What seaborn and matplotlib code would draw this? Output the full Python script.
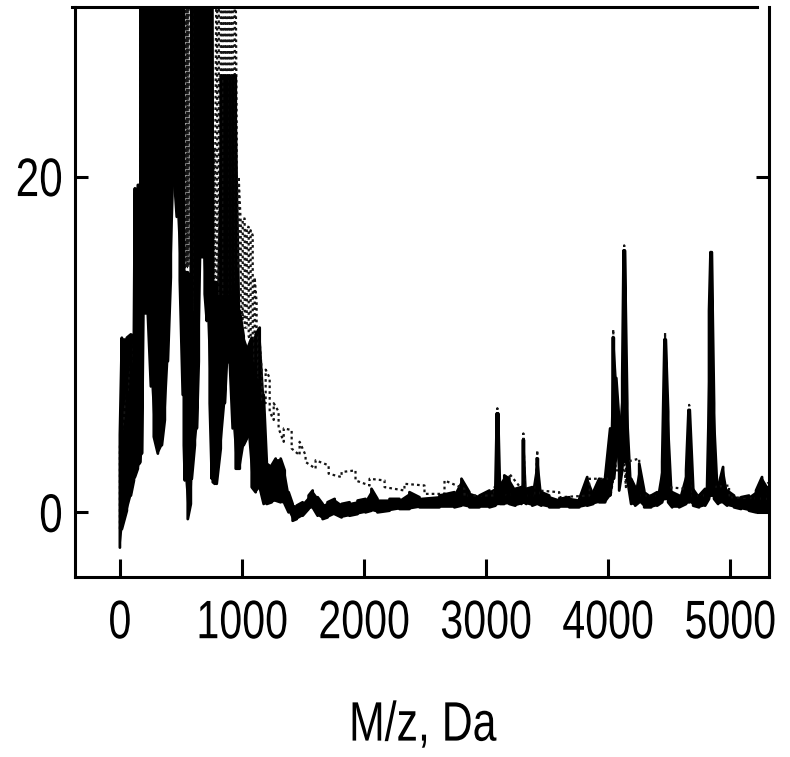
import matplotlib
matplotlib.use("Agg")
import matplotlib.pyplot as plt
from matplotlib.patheffects import AbstractPathEffect
from matplotlib.transforms import Affine2D
import seaborn as sns
import pandas as pd

# ---------------- data ----------------
# solid spectrum: m/z knots with lower / upper envelope of the dense trace
solid_mz = [0, 16, 57, 90, 115, 123, 147, 160, 168, 180, 192, 229, 254, 278, 311, 344,
            368, 393, 417, 442, 466, 491, 515, 524, 532, 556, 581, 589, 614, 630, 646,
            663, 679, 695, 712, 736, 753, 761, 777, 793, 826, 859, 875, 900, 924, 949,
            982, 1014, 1047, 1080, 1112, 1145, 1178, 1203, 1243, 1276, 1317, 1350, 1382,
            1415, 1448, 1497, 1546, 1579, 1620, 1661, 1701, 1759, 1816, 1881, 1947, 2012,
            2061, 2110, 2209, 2290, 2372, 2454, 2618, 2740, 2798, 2863, 2945, 3027, 3076,
            3088, 3098, 3112, 3149, 3190, 3239, 3288, 3300, 3310, 3329, 3378, 3414, 3424,
            3452, 3517, 3599, 3681, 3763, 3828, 3877, 3926, 3975, 4016, 4036, 4046, 4066,
            4090, 4115, 4126, 4136, 4156, 4188, 4221, 4254, 4295, 4352, 4401, 4442, 4461,
            4471, 4491, 4524, 4581, 4638, 4658, 4668, 4696, 4744, 4794, 4826, 4838, 4848,
            4867, 4900, 4941, 4974, 5031, 5088, 5153, 5211, 5260, 5309]
solid_lo = [-2.1, -1.0, 0.1, 1.0, 1.9, 2.1, 2.6, 2.9, 3.0, 3.5, 11.8, 11.8, 7.5, 4.5, 3.5, 4.0,
            5.5, 9.0, 14.0, 20.2, 17.6, 13.8, 7.0, 4.0, 1.9, -0.4, 0.5, 2.0, 4.0, 5.0, 9.0,
            15.2, 15.2, 13.0, 11.4, 6.5, 2.0, 1.8, 1.7, 1.7, 3.8, 6.5, 8.8, 9.0, 5.0, 2.6,
            2.6, 4.0, 4.5, 1.5, 1.2, 1.5, 0.5, 0.5, 0.6, 0.7, 0.6, 0.5, 0.0,
            -0.5, -0.4, -0.2, 0.2, 0.3, -0.2, -0.4, -0.3, -0.1, -0.3, -0.2, -0.1, 0.0,
            0.1, 0.0, 0.1, 0.2, 0.2, 0.3, 0.3, 0.3, 0.4, 0.3, 0.3, 0.3, 0.4,
            0.5, 0.5, 0.5, 0.5, 0.5, 0.4, 0.5, 0.6, 0.6, 0.5, 0.4, 0.5, 0.5,
            0.4, 0.3, 0.3, 0.3, 0.3, 0.4, 0.5, 0.6, 0.6, 1.0, 2.0, 2.0, 3.5,
            1.3, 2.5, 3.0, 3.0, 2.0, 0.5, 0.4, 0.6, 0.3, 0.3, 0.4, 0.6, 0.8,
            0.8, 0.6, 0.3, 0.3, 0.5, 0.6, 0.6, 0.4, 0.3, 0.4, 0.8, 1.0, 1.0,
            0.8, 0.5, 0.6, 0.4, 0.3, 0.2, 0.1, 0.0, 0.0, 0.1]
solid_hi = [4.6, 10.4, 10.4, 10.6, 10.8, 19.3, 19.5, 19.5, 40, 40, 40, 40, 40, 40, 40, 40,
            40, 40, 40, 40, 40, 40, 40, 40, 14.3, 14.3, 14.3, 40, 40, 40, 40,
            40, 40, 40, 40, 40, 40, 13.7, 13.7, 13.7, 26, 26, 26, 26, 26, 26,
            12.0, 10.5, 9.8, 10.4, 10.6, 11.0, 7.0, 3.0, 2.8, 3.2, 3.2, 2.5, 1.2,
            0.5, 0.4, 0.6, 1.0, 1.3, 0.9, 0.5, 0.6, 0.8, 0.5, 0.6, 0.7, 0.8,
            1.4, 0.8, 0.8, 0.8, 1.2, 0.9, 1.0, 1.2, 2.0, 1.2, 1.0, 1.3, 1.5,
            5.9, 5.9, 1.8, 2.2, 2.0, 1.4, 1.5, 4.3, 4.3, 1.4, 1.5, 3.2, 3.2,
            1.2, 1.0, 0.8, 0.9, 0.8, 2.1, 1.2, 2.0, 2.1, 5.0, 10.4, 10.4, 8.0,
            5.5, 8.0, 15.6, 15.6, 6.5, 2.0, 1.5, 2.9, 1.3, 1.0, 1.2, 3.0, 10.3,
            10.3, 6.0, 1.2, 1.0, 2.5, 6.1, 6.1, 1.5, 1.0, 1.4, 12.0, 15.5, 15.5,
            6.5, 1.5, 2.7, 1.3, 1.0, 0.9, 1.0, 1.3, 2.1, 1.5]

# dotted spectrum: m/z knots with lower / upper envelope
dot_mz = [0, 115, 123, 160, 168, 520, 532, 540, 548, 556, 564, 581, 600, 750, 765, 773, 781,
          797, 810, 826, 842, 859, 875, 892, 908, 924, 941, 957, 973, 990, 1006, 1022,
          1039, 1055, 1071, 1088, 1104, 1120, 1137, 1161, 1194, 1227, 1260, 1300, 1342,
          1407, 1472, 1521, 1603, 1710, 1816, 1930, 2045, 2168, 2331, 2495, 2659, 2823,
          3068, 3084, 3092, 3100, 3190, 3290, 3305, 3318, 3405, 3419, 3432, 3599, 3844,
          4020, 4041, 4060, 4120, 4131, 4145, 4254, 4450, 4466, 4480, 4650, 4663, 4676,
          4830, 4843, 4856, 4990, 5309]
dot_lo = [-1.0, 2.0, 2.5, 3.0, 10.0, 14.0, 14.6, 14.6, 14.6, 14.6, 14.6, 14.6, 12.0, 12.0,
          13.7, 13.7, 13.7, 13.5, 13.0, 13.0, 13.0, 13.0, 13.0, 13.0, 13.0, 13.5, 14.0,
          16.0, 14.5, 12.5, 11.5, 11.0, 11.0, 10.5, 10.0, 10.0, 9.0, 8.5, 8.0, 6.7, 6.5,
          6.0, 5.5, 5.0, 4.2, 3.8, 3.4, 3.0, 2.6, 2.3, 2.1, 1.9, 1.6, 1.5, 1.3, 1.1,
          1.1, 1.0, 1.0, 1.1, 1.2, 1.1, 1.0, 1.0, 1.1, 1.0, 1.0, 1.0, 1.0, 0.9, 1.0,
          1.0, 2.0, 2.5, 2.5, 3.0, 1.5, 1.0, 1.0, 1.0, 1.0, 1.0, 1.0, 1.0,
          1.0, 1.0, 1.0, 0.9, 0.8]
dot_hi = [4.0, 10.0, 19.0, 19.0, 40, 40, 40, 40, 40, 40, 40, 40, 40, 40, 21.6, 21.6, 21.6,
          40, 40, 40, 40, 40, 40, 40, 40, 40, 40, 22.6, 20.0, 17.2, 17.5, 17.5,
          17.0, 17.0, 16.8, 16.5, 14.0, 12.5, 11.0, 8.5, 8.5, 8.0, 6.5, 6.0, 5.0,
          4.9, 4.2, 3.4, 3.1, 2.8, 2.4, 2.5, 2.0, 1.9, 1.7, 1.6, 1.9, 1.4,
          1.5, 1.4, 6.2, 1.5, 2.3, 1.4, 4.7, 1.4, 1.3, 3.7, 1.3, 1.2, 2.0,
          2.0, 10.9, 5.0, 5.0, 15.9, 3.0, 3.2, 1.5, 10.7, 1.5, 1.4, 6.4, 1.4,
          1.5, 15.6, 1.5, 1.6, 1.8]

x_ticks = [0, 1000, 2000, 3000, 4000, 5000]
y_ticks = [0, 20]
x_label = "M/z, Da"


def zigzag(mz, lo, hi):
    xs, ys = [], []
    for i, (m, a, b) in enumerate(zip(mz, lo, hi)):
        xs += [m, m]
        ys += [a, b] if i % 2 == 0 else [b, a]
    return pd.DataFrame({"mz": xs, "I": ys})


class Squeeze(AbstractPathEffect):
    """Draw text glyphs horizontally condensed (the reference uses a narrow face)."""

    def __init__(self, sx=0.78, anchor="center"):
        super().__init__()
        self.sx = sx
        self.anchor = anchor

    def draw_path(self, renderer, gc, tpath, affine, rgbFace=None):
        ext = tpath.get_extents()
        if self.anchor == "right":
            ax0 = ext.x1
        elif self.anchor == "left":
            ax0 = ext.x0
        else:
            ax0 = 0.5 * (ext.x0 + ext.x1)
        t = Affine2D().translate(-ax0, 0).scale(self.sx, 1).translate(ax0, 0) + affine
        renderer.draw_path(gc, tpath, t, rgbFace)


sns.set_theme(style="white")
plt.rcParams["font.family"] = ["Liberation Sans", "DejaVu Sans"]

fig = plt.figure(figsize=(7.9, 7.57), dpi=100)
ax = fig.add_axes([0.0949, 0.2378, 0.8785, 0.753])

# dotted trace (underneath)
dz = zigzag(dot_mz, dot_lo, dot_hi)
sns.lineplot(data=dz, x="mz", y="I", sort=False, estimator=None, ax=ax,
             color="#151515", linewidth=1.6, linestyle=(0, (1.2, 1.4)))

# solid trace
ax.fill_between(solid_mz, solid_lo, solid_hi, color="black", linewidth=0)
sz = zigzag(solid_mz, solid_lo, solid_hi)
sns.lineplot(data=sz, x="mz", y="I", sort=False, estimator=None, ax=ax,
             color="black", linewidth=2.0)

ax.set_xlim(-368, 5317)
ax.set_ylim(-3.85, 30.1)
ax.set_xticks(x_ticks)
ax.set_yticks(y_ticks)
xt = ax.set_xticklabels([str(v) for v in x_ticks])
yt = ax.set_yticklabels([str(v) for v in y_ticks])
ax.set_xlabel(x_label, fontsize=40, labelpad=37, color="black")
ax.set_ylabel("")
ax.xaxis.label.set_path_effects([Squeeze(0.77, "center")])
for lbl in xt:
    lbl.set_path_effects([Squeeze(0.76, "center")])
for lbl in yt:
    lbl.set_path_effects([Squeeze(0.78, "right")])

for side in ["left", "right", "bottom", "top"]:
    ax.spines[side].set_visible(True)
    ax.spines[side].set_color("black")
    ax.spines[side].set_linewidth(2.2)
ax.spines["top"].set_bounds(-393, 5220)

ax.tick_params(axis="x", direction="in", length=13, width=2.2, pad=16,
               labelsize=39, bottom=True, top=False, colors="black")
ax.tick_params(axis="y", direction="in", length=9.5, width=2.2, pad=8.5,
               labelsize=39, left=True, right=True, labelright=False, colors="black")
ax.grid(False)

fig.savefig("out.png", dpi=100)
